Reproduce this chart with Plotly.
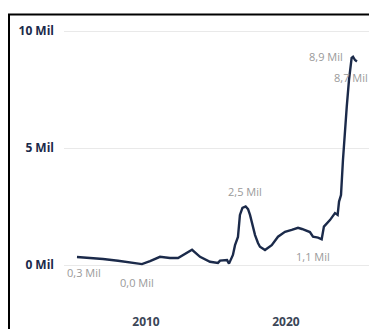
import plotly.graph_objects as go

# Data (year as decimal, value in millions)
years = [2005.07, 2006.0, 2006.93, 2008.0, 2009.0, 2009.71, 2010.29, 2011.0, 2011.71, 2012.29,
         2013.29, 2013.86, 2014.57, 2015.14, 2015.29, 2015.79, 2015.93, 2016.21, 2016.36, 2016.57,
         2016.71, 2016.89, 2017.12, 2017.29, 2017.43, 2017.64, 2017.79, 2018.0, 2018.14, 2018.5,
         2018.98, 2019.43, 2019.93, 2020.41, 2020.86, 2021.14, 2021.36, 2021.71, 2021.93, 2022.29,
         2022.55, 2022.71, 2023.14, 2023.5, 2023.69, 2023.79, 2023.93, 2024.07, 2024.34, 2024.5,
         2024.69, 2024.79, 2024.93, 2025.07]
values = [0.34, 0.30, 0.26, 0.18, 0.09, 0.04, 0.17, 0.35, 0.30, 0.30,
          0.65, 0.35, 0.14, 0.09, 0.19, 0.21, 0.06, 0.43, 0.85, 1.20,
          2.14, 2.44, 2.50, 2.39, 2.14, 1.58, 1.28, 0.94, 0.78, 0.64,
          0.85, 1.21, 1.42, 1.50, 1.59, 1.54, 1.50, 1.41, 1.21, 1.17,
          1.10, 1.64, 1.92, 2.22, 2.14, 2.71, 2.99, 4.49, 6.76, 7.90,
          8.85, 8.90, 8.76, 8.70]

y_ticks = [0, 5, 10]
y_labels = ["0 Mil", "5 Mil", "10 Mil"]
x_ticks = [2010, 2020]
x_labels = ["2010", "2020"]

label_texts = ["0,3 Mil", "0,0 Mil", "2,5 Mil", "1,1 Mil", "8,9 Mil", "8,7 Mil"]
label_x = [2005.57, 2009.39, 2017.07, 2021.93, 2022.86, 2024.64]
label_y = [-0.30, -0.73, 3.13, 0.38, 8.89, 8.03]

fig = go.Figure()
fig.add_trace(go.Scatter(x=years, y=values, mode="lines",
                         line=dict(color="#1b2a4a", width=2.4), hoverinfo="skip"))

for t, xx, yy in zip(label_texts, label_x, label_y):
    fig.add_annotation(x=xx, y=yy, text=t, showarrow=False, xanchor="center", yanchor="middle",
                       font=dict(family="Open Sans", size=11, color="#9a9a9a"))

# frame border (extends beyond the visible area)
fig.add_shape(type="rect", xref="paper", yref="paper",
              x0=(9 - 64) / 305, x1=1.2, y0=-0.3, y1=1 + (20 - 14.5) / 293,
              line=dict(color="#000000", width=2), fillcolor="rgba(0,0,0,0)", layer="above")

fig.update_layout(
    width=369, height=329,
    margin=dict(l=64, r=0, t=20, b=16),
    paper_bgcolor="white", plot_bgcolor="white",
    showlegend=False,
    xaxis=dict(range=[2004.143, 2025.93], tickvals=x_ticks, ticktext=x_labels,
               showgrid=False, zeroline=False, showline=False, ticks="",
               tickfont=dict(family="Open Sans", size=12, color="#3b4657", weight="bold")),
    yaxis=dict(range=[-2.05, 10.47], tickvals=y_ticks, ticktext=y_labels,
               showgrid=True, gridcolor="#e9e9e9", gridwidth=1, zeroline=False,
               showline=False, ticks="", ticklabelstandoff=9,
               tickfont=dict(family="Open Sans", size=12, color="#1b2a4a", weight="bold")),
)

fig.write_html("out.html")
